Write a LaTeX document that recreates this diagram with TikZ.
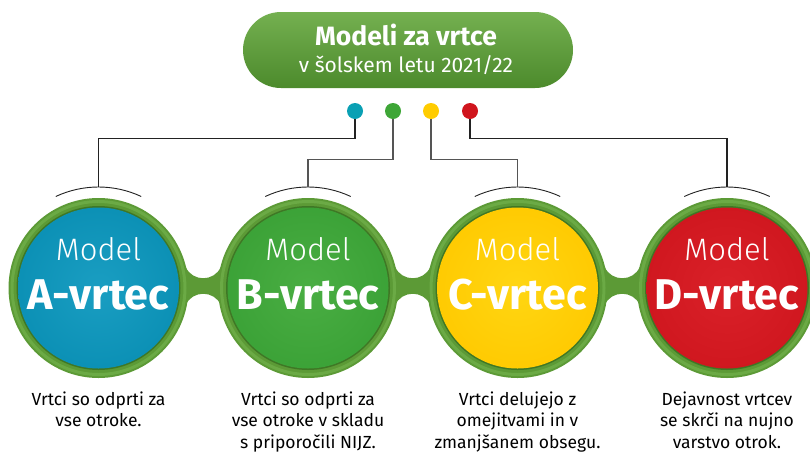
\documentclass[tikz,border=0pt]{standalone}
\usepackage{fontspec}
\setmainfont{Fira Sans}
\newfontfamily\lightfont{Fira Sans Light}
\usetikzlibrary{calc,shapes.misc}
\definecolor{ringgreen}{HTML}{5C9A36}
\definecolor{ringlight}{HTML}{6BAA45}
\definecolor{ringdark}{HTML}{3F7725}
\definecolor{hdrtop}{HTML}{74B050}
\definecolor{hdrbot}{HTML}{4C8A2C}
\definecolor{cA}{HTML}{0A8FB4}\definecolor{lA}{HTML}{1A9EC2}\definecolor{eA}{HTML}{077294}
\definecolor{cB}{HTML}{3AA136}\definecolor{lB}{HTML}{4AAE43}\definecolor{eB}{HTML}{2B8427}
\definecolor{cC}{HTML}{FFC900}\definecolor{lC}{HTML}{FFD612}\definecolor{eC}{HTML}{EEAC00}
\definecolor{cD}{HTML}{CF161E}\definecolor{lD}{HTML}{DA2129}\definecolor{eD}{HTML}{A51017}
\definecolor{dA}{HTML}{0AA0B4}
\definecolor{dB}{HTML}{3EA637}
\definecolor{dC}{HTML}{FFCC00}
\definecolor{dD}{HTML}{D0151D}
\definecolor{lineA}{HTML}{222222}
\definecolor{lineB}{HTML}{555555}
\definecolor{arcc}{HTML}{222222}
\pgfdeclareradialshading{diskA}{\pgfpoint{0bp}{0bp}}{color(0bp)=(lA); color(28bp)=(cA); color(44bp)=(cA); color(50bp)=(eA); color(60bp)=(eA)}
\pgfdeclareradialshading{diskB}{\pgfpoint{0bp}{0bp}}{color(0bp)=(lB); color(28bp)=(cB); color(44bp)=(cB); color(50bp)=(eB); color(60bp)=(eB)}
\pgfdeclareradialshading{diskC}{\pgfpoint{0bp}{0bp}}{color(0bp)=(lC); color(28bp)=(cC); color(44bp)=(cC); color(50bp)=(eC); color(60bp)=(eC)}
\pgfdeclareradialshading{diskD}{\pgfpoint{0bp}{0bp}}{color(0bp)=(lD); color(28bp)=(cD); color(44bp)=(cD); color(50bp)=(eD); color(60bp)=(eD)}
\tikzset{
  dotnode/.style={circle, minimum size=16pt, inner sep=0pt},
  conn/.style={line width=1.2pt},
  arcline/.style={draw=arcc, line width=0.9pt},
  modeltxt/.style={text=white, inner sep=0pt, font=\lightfont\fontsize{31}{36}\selectfont},
  bigtxt/.style={text=white, inner sep=0pt, font=\bfseries\fontsize{43}{50}\selectfont},
  desc/.style={align=center, inner sep=0pt, text=black, font=\fontsize{17.5}{21.5}\selectfont},
}
\newcommand{\modelcircle}[2]{%
  \coordinate (c#1) at (#2,288);
  \fill[ringgreen] (c#1) circle[radius=90pt];
  \draw[ringlight, line width=3pt] (c#1) circle[radius=86.5pt];
  \fill[ringdark] (c#1) circle[radius=82pt];
  \shade[shading=disk#1] (c#1) circle[radius=80.5pt];
  \node[modeltxt, anchor=base] (m#1) at (#2,260) {Model};
  \node[bigtxt, anchor=base] (v#1) at (#2,309) {#1-vrtec};
  \coordinate (t#1) at ($(c#1)+(90:101pt)$);
  \draw[arcline] ($(c#1)+(115:101pt)$) arc[start angle=115, end angle=65, radius=101pt];
}
\newcommand{\necksh}[1]{%
  \fill[ringgreen] (#1-28,267) -- (#1-17.5,267) .. controls (#1-11,282) and (#1+11,282) .. (#1+17.5,267)
    -- (#1+28,267) -- (#1+28,305) -- (#1+17.5,305) .. controls (#1+11,290) and (#1-11,290) .. (#1-17.5,305)
    -- (#1-28,305) -- cycle;
}
\begin{document}
\begin{tikzpicture}[x=1pt,y=-1pt]
\useasboundingbox (0,0) rectangle (810,453);
% header
\node[rounded rectangle, minimum width=330pt, minimum height=76pt, top color=hdrtop, bottom color=hdrbot, inner sep=0pt] (hdr) at (408,50) {};
\node[anchor=base, text=white, inner sep=0pt, font=\bfseries\fontsize{26.5}{30}\selectfont] (h1) at (406,45) {Modeli za vrtce};
\node[anchor=base, text=white, inner sep=0pt, font=\fontsize{21}{24}\selectfont] (h2) at (406,72) {v šolskem letu 2021/22};
% necks
\necksh{203.25}
\necksh{412.75}
\necksh{622.25}
% circles
\modelcircle{A}{98.5}
\modelcircle{B}{308}
\modelcircle{C}{517.5}
\modelcircle{D}{727}
% dots
\node[dotnode, fill=dA] (dotA) at (355,111) {};
\node[dotnode, fill=dB] (dotB) at (393,111) {};
\node[dotnode, fill=dC] (dotC) at (431,111) {};
\node[dotnode, fill=dD] (dotD) at (470,111) {};
% connectors
\draw[conn, lineA] (dotA.south) -- ++(0,19) -| (tA);
\draw[conn, lineB] (dotB.south) -- ++(0,40) -| (tB);
\draw[conn, lineB] (dotC.south) -- ++(0,40) -| (tC);
\draw[conn, lineA] (dotD.south) -- ++(0,19) -| (tD);
% descriptions
\node[desc, anchor=north] (xA) at (98.5,391.5) {Vrtci so odprti za\\vse otroke.};
\node[desc, anchor=north] (xB) at (308,391.5) {Vrtci so odprti za\\vse otroke v skladu\\s priporočili NIJZ.};
\node[desc, anchor=north] (xC) at (517.5,391.5) {Vrtci delujejo z\\omejitvami in v\\zmanjšanem obsegu.};
\node[desc, anchor=north] (xD) at (727,391.5) {Dejavnost vrtcev\\se skrči na nujno\\varstvo otrok.};
\end{tikzpicture}
\end{document}
